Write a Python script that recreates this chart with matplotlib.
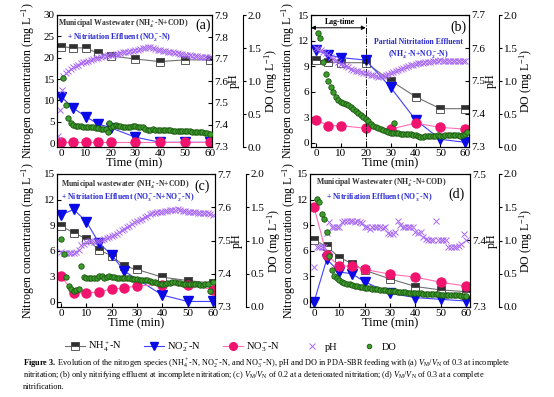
import numpy as np
import matplotlib
matplotlib.use('Agg')
import matplotlib.pyplot as plt

plt.rcParams['font.family'] = 'Liberation Serif'
plt.rcParams['mathtext.fontset'] = 'custom'
plt.rcParams['mathtext.rm'] = 'Liberation Serif'
plt.rcParams['mathtext.it'] = 'Liberation Serif:italic'
plt.rcParams['mathtext.bf'] = 'Liberation Serif:bold'
plt.rcParams['mathtext.default'] = 'regular'

# ---- panel (a) ----
a_t = [0, 5, 10, 15, 20, 30, 40, 50, 60]
a_nh4 = [22.6, 22.3, 22.3, 21.0, 20.4, 19.7, 19.1, 19.5, 19.5]
a_no2 = [10.9, 8.2, 6.2, 4.5, 3.6, 1.4, 0.2, 0.2, 0.2]
a_no3 = [0.2, 0.2, 0.2, 0.2, 0.2, 0.2, 0.2, 0.2, 0.2]
a_ph_t = [-1.1, -0.4, 0.5] + list(range(1, 61))
a_ph = [7.349, 7.467, 7.561,
        7.625, 7.635, 7.645, 7.655, 7.663, 7.670, 7.675, 7.680, 7.685, 7.688,
        7.692, 7.696, 7.700, 7.703, 7.706, 7.709, 7.712, 7.714, 7.716, 7.718,
        7.720, 7.722, 7.725, 7.727, 7.730, 7.732, 7.734, 7.736, 7.738, 7.740,
        7.743, 7.746, 7.749, 7.752, 7.755, 7.754, 7.750, 7.746, 7.743, 7.740,
        7.738, 7.736, 7.734, 7.732, 7.730, 7.728, 7.726, 7.724, 7.722, 7.720,
        7.718, 7.717, 7.715, 7.714, 7.712, 7.711, 7.710, 7.709, 7.708, 7.707]
a_do_t = list(range(1, 61)) + [19.2]
a_do = [1.04, 0.63, 0.44, 0.36, 0.33, 0.32, 0.32, 0.32, 0.31, 0.31,
        0.30, 0.30, 0.30, 0.29, 0.29, 0.28, 0.28, 0.27, 0.22, 0.31,
        0.32, 0.33, 0.32, 0.32, 0.31, 0.31, 0.31, 0.31, 0.32, 0.32,
        0.31, 0.30, 0.30, 0.28, 0.26, 0.26, 0.27, 0.26, 0.26, 0.26,
        0.26, 0.26, 0.26, 0.26, 0.25, 0.25, 0.25, 0.25, 0.24, 0.24,
        0.24, 0.24, 0.23, 0.23, 0.23, 0.22, 0.22, 0.21, 0.21, 0.20,
        0.36]

# ---- panel (b) ----
b_t = [0, 5, 10, 20, 30, 40, 50, 60]
b_nh4 = [9.7, 9.5, 9.4, 9.4, 7.3, 5.4, 4.0, 4.0]
b_no2 = [10.9, 10.3, 10.0, 9.7, 6.5, 2.7, 0.4, 0.05]
b_no3 = [2.7, 2.0, 2.0, 1.7, 1.6, 2.3, 1.8, 1.6]
b_ph_t = list(range(0, 61))
b_ph = [7.600, 7.597, 7.594, 7.589, 7.584, 7.578, 7.573, 7.568, 7.563, 7.558,
        7.553, 7.549, 7.545, 7.541, 7.537, 7.533, 7.531, 7.529, 7.527, 7.525,
        7.523, 7.521, 7.519, 7.517, 7.515, 7.513, 7.514, 7.516, 7.518, 7.520,
        7.523, 7.526, 7.529, 7.532, 7.535, 7.538, 7.541, 7.544, 7.547, 7.550,
        7.553, 7.554, 7.555, 7.556, 7.557, 7.558, 7.559, 7.560, 7.561, 7.562,
        7.563, 7.562, 7.562, 7.561, 7.561, 7.561, 7.561, 7.561, 7.561, 7.561, 7.561]
b_do_t = [0.8, 1.6] + list(range(3, 61)) + [31.5, 60.5]
b_do = [1.72, 1.65,
        1.29, 1.10, 1.00, 0.91, 0.84, 0.76, 0.71, 0.68,
        0.66, 0.65, 0.63, 0.61, 0.58, 0.55, 0.52, 0.49, 0.46, 0.43,
        0.39, 0.35, 0.32, 0.30, 0.29, 0.28, 0.26, 0.24, 0.22, 0.21,
        0.21, 0.21, 0.21, 0.20, 0.20, 0.20, 0.19, 0.19, 0.18, 0.18,
        0.17, 0.15, 0.15, 0.16, 0.16, 0.17, 0.17, 0.17, 0.18, 0.17,
        0.16, 0.18, 0.18, 0.18, 0.18, 0.18, 0.18, 0.17, 0.18, 0.19,
        0.36, 0.22]

# ---- panel (c) ----
c_t = [0, 5, 10, 15, 20, 25, 30, 40, 50, 60]
c_nh4 = [8.9, 8.1, 7.4, 6.1, 5.4, 4.2, 3.8, 2.9, 2.5, 2.2]
c_no2_t = [0, 5, 10, 15, 20, 25, 40, 50, 60]
c_no2 = [10.2, 10.85, 9.4, 6.9, 5.5, 3.6, 0.8, 0.05, 0.05]
c_no3 = [3.0, 1.1, 1.0, 1.2, 1.5, 1.6, 1.9, 2.0, 2.0, 1.45]
c_ph_t = list(range(0, 61))
c_ph = [7.465, 7.463, 7.462, 7.462, 7.463, 7.462, 7.465, 7.470, 7.485, 7.490,
        7.495, 7.497, 7.497, 7.496, 7.497, 7.498, 7.502, 7.506, 7.509, 7.512,
        7.515, 7.518, 7.521, 7.526, 7.531, 7.535, 7.540, 7.545, 7.550, 7.555,
        7.560, 7.563, 7.566, 7.570, 7.575, 7.580, 7.582, 7.584, 7.585, 7.586,
        7.586, 7.588, 7.590, 7.591, 7.592, 7.593, 7.594, 7.593, 7.590, 7.588,
        7.586, 7.587, 7.586, 7.585, 7.584, 7.583, 7.584, 7.583, 7.582, 7.580, 7.576]
c_do_t = list(range(0, 61))
c_do = [1.03, 0.80, 0.45, 0.32, 0.27, 0.24, 0.25, 0.27, 0.61, 0.45,
        0.44, 0.44, 0.43, 0.43, 0.44, 0.46, 0.46, 0.44, 0.45, 0.46,
        0.45, 0.45, 0.44, 0.44, 0.44, 0.43, 0.43, 0.43, 0.42, 0.42,
        0.42, 0.41, 0.41, 0.40, 0.40, 0.39, 0.38, 0.37, 0.36, 0.35,
        0.34, 0.35, 0.36, 0.36, 0.37, 0.37, 0.36, 0.36, 0.35, 0.35,
        0.34, 0.35, 0.35, 0.34, 0.34, 0.33, 0.33, 0.34, 0.34, 0.24, 0.38]

# ---- panel (d) ----
d_t = [0, 5, 10, 15, 20, 30, 40, 50, 60]
d_nh4 = [7.25, 6.5, 5.2, 4.5, 3.7, 2.7, 1.8, 1.4, 1.2]
d_no2 = [0.0, 5.0, 3.5, 3.3, 2.35, 1.0, 0.5, 0.3, 0.1]
d_no3 = [11.1, 5.5, 4.2, 4.2, 3.8, 3.25, 2.9, 2.3, 1.85]
d_ph_t = list(range(0, 61))
d_ph = [7.360, 7.390, 7.390, 7.390, 7.390, 7.412, 7.428, 7.420, 7.420, 7.420,
        7.420, 7.428, 7.430, 7.430, 7.430, 7.430, 7.428, 7.430, 7.428, 7.427,
        7.420, 7.420, 7.418, 7.420, 7.420, 7.420, 7.420, 7.419, 7.420, 7.412,
        7.410, 7.410, 7.413, 7.430, 7.423, 7.420, 7.420, 7.420, 7.420, 7.420,
        7.413, 7.412, 7.413, 7.405, 7.402, 7.400, 7.400, 7.400, 7.430, 7.400,
        7.400, 7.400, 7.400, 7.390, 7.390, 7.390, 7.390, 7.392, 7.395, 7.410, 7.400]
d_do_t = list(range(1, 61))
d_do = [1.63, 1.58, 1.40, 1.33, 1.13, 0.76, 0.55, 0.47, 0.43, 0.40,
        0.38, 0.36, 0.35, 0.34, 0.33, 0.32, 0.31, 0.30, 0.295, 0.29,
        0.285, 0.28, 0.275, 0.27, 0.265, 0.26, 0.255, 0.25, 0.245, 0.24,
        0.238, 0.235, 0.232, 0.23, 0.225, 0.22, 0.218, 0.215, 0.212, 0.21,
        0.208, 0.205, 0.202, 0.20, 0.198, 0.195, 0.192, 0.19, 0.188, 0.185,
        0.183, 0.18, 0.18, 0.178, 0.176, 0.175, 0.173, 0.172, 0.171, 0.17]

NH4_KW = dict(color='#707070', lw=0.8, marker='s', ms=6, fillstyle='top',
              mfc='#303030', mfcalt='white', mec='#404040', mew=0.6)
NO2_KW = dict(color='#4040ff', lw=0.8, marker='v', ms=7, mfc='#0a0ae6', mec='#0a0ae6')
NO3_KW = dict(color='#ff6fb5', lw=0.8, marker='o', ms=6.5, mfc='#f0146e', mec='#f0146e')
PH_KW = dict(ls='none', marker='x', ms=4.5, mew=0.7, color='#a868f5')
DO_KW = dict(ls='none', marker='o', ms=3.9, mfc='#3c9c2c', mec='#1b5410', mew=0.6)
BLUE = '#2a2ad0'
TICK = 8
LAB = 8.6

W, H = 554, 397
fig = plt.figure(figsize=(W / 100, H / 100), dpi=100)


def box(l, t, r, b):
    return [l / W, 1 - b / H, (r - l) / W, (b - t) / H]


def panel(pos, xlim, t, nh4, no2_t, no2, no3, ph_t, ph, do_t, do,
          ylim, yticks, phlim, phticks, off, lx, dx):
    ax = fig.add_axes(pos)
    ax.plot(t, nh4, **NH4_KW, label='NH$_4^+$-N')
    ax.plot(no2_t, no2, **NO2_KW, label='NO$_2^-$-N')
    ax.plot(t, no3, **NO3_KW, label='NO$_3^-$-N')
    ax.set_xlim(xlim)
    ax.set_ylim(ylim)
    ax.set_xticks([0, 10, 20, 30, 40, 50, 60])
    ax.set_yticks(yticks)
    ax.tick_params(direction='in', length=3, labelsize=TICK, pad=1.5)
    ax.set_xlabel('Time (min)', fontsize=LAB + 0.4, labelpad=-0.5)
    ax.set_ylabel('Nitrogen concentration (mg L$^{-1}$)', fontsize=LAB)
    ax.yaxis.set_label_coords(lx, 0.5)

    ax2 = ax.twinx()
    ax2.plot(ph_t, ph, **PH_KW, label='pH')
    ax2.set_ylim(phlim)
    ax2.set_yticks(phticks)
    ax2.set_yticklabels(['%.1f' % v for v in phticks])
    ax2.tick_params(direction='in', length=3, labelsize=TICK, pad=1.5)
    ax2.set_ylabel('pH', fontsize=LAB, labelpad=0)

    ax3 = ax.twinx()
    for s in ['left', 'top', 'bottom']:
        ax3.spines[s].set_visible(False)
    # offset given in pixels, spine wants points
    ax3.spines['right'].set_position(('outward', off * 0.72))
    ax3.plot(do_t, do, **DO_KW, label='DO')
    ax3.set_ylim(0, 2.0)
    ax3.set_yticks([0, 0.5, 1.0, 1.5, 2.0])
    ax3.set_yticklabels(['0.0', '0.5', '1.0', '1.5', '2.0'])
    ax3.tick_params(direction='out', length=2.5, labelsize=TICK, pad=1)
    ax3.set_ylabel('DO (mg L$^{-1}$)', fontsize=LAB)
    ax3.yaxis.set_label_coords(dx, 0.5)
    return ax, ax2, ax3


axa = panel(box(57, 15, 212, 147), (-1.6, 60.9), a_t, a_nh4, a_t, a_no2, a_no3,
            a_ph_t, a_ph, a_do_t, a_do, (-0.9, 30), [0, 5, 10, 15, 20, 25, 30],
            (7.3, 7.9), [7.3, 7.4, 7.5, 7.6, 7.7, 7.8, 7.9], 31, -0.129, 1.325)
axb = panel(box(311, 15, 469, 147), (-2.0, 61.5), b_t, b_nh4, b_t, b_no2, b_no3,
            b_ph_t, b_ph, b_do_t, b_do, (-0.5, 15), [0, 3, 6, 9, 12, 15],
            (7.3, 7.7), [7.3, 7.4, 7.5, 7.6, 7.7], 30, -0.088, 1.304)
axc = panel(box(57, 174, 215, 307), (-1.6, 60.8), c_t, c_nh4, c_no2_t, c_no2, c_no3,
            c_ph_t, c_ph, c_do_t, c_do, (-0.6, 15), [0, 3, 6, 9, 12, 15],
            (7.3, 7.7), [7.3, 7.4, 7.5, 7.6, 7.7], 31, -0.127, 1.318)
axd = panel(box(310, 174, 470, 307), (-1.6, 61.5), d_t, d_nh4, d_t, d_no2, d_no3,
            d_ph_t, d_ph, d_do_t, d_do, (-0.6, 15), [0, 3, 6, 9, 12, 15],
            (7.3, 7.5), [7.3, 7.4, 7.5], 29, -0.078, 1.294)

# annotations
ax = axa[0]
ax.text(-1.0, 27.9, 'Municipal Wastewater (NH$_4^+$-N+COD)', fontsize=5.6,
        fontweight='bold', color='#333333', va='center')
ax.text(60.5, 27.6, '(a)', fontsize=10, ha='right', va='center')
ax.text(2.3, 24.9, '+ Nitritation Effluent (NO$_2^-$-N)', fontsize=5.6,
        fontweight='bold', color=BLUE, va='center')

ax = axb[0]
ax.axvline(20, color='black', lw=0.7, ls='-.')
ax.annotate('', xy=(-2.0, 13.5), xytext=(20, 13.5),
            arrowprops=dict(arrowstyle='<|-|>', color='black', lw=0.7,
                            mutation_scale=6, shrinkA=0, shrinkB=0))
ax.text(9.5, 14.2, 'Lag-time', fontsize=5.6, fontweight='bold', ha='center', va='center')
ax.text(60.5, 13.6, '(b)', fontsize=10, ha='right', va='center')
ax.text(41, 11.8, 'Partial Nitritation Effluent', fontsize=5.6, fontweight='bold',
        color=BLUE, ha='center', va='center')
ax.text(41, 10.4, '(NH$_4^+$-N+NO$_2^-$-N)', fontsize=5.6, fontweight='bold',
        color=BLUE, ha='center', va='center')

ax = axc[0]
ax.text(0, 13.7, 'Municipal wastewater (NH$_4^+$-N+COD)', fontsize=5.6,
        fontweight='bold', color='#333333', va='center')
ax.text(55.5, 13.6, '(c)', fontsize=10, ha='center', va='center')
ax.text(0, 12.3, '+ Nitritation Effluent (NO$_3^-$-N+NO$_2^-$-N)', fontsize=5.6,
        fontweight='bold', color=BLUE, va='center')

ax = axd[0]
ax.text(0.8, 14.0, 'Municipal Wastewater (NH$_4^+$-N+COD)', fontsize=5.6,
        fontweight='bold', color='#333333', va='center')
ax.text(56, 12.6, '(d)', fontsize=10, ha='center', va='center')
ax.text(4.7, 12.3, '+ Nitrifiation Effluent (NO$_3^-$-N)', fontsize=5.6,
        fontweight='bold', color=BLUE, va='center')

# legend row
h1, l1 = axa[0].get_legend_handles_labels()
h2, l2 = axa[1].get_legend_handles_labels()
h3, l3 = axa[2].get_legend_handles_labels()
fig.legend(h1 + h2 + h3, l1 + l2 + l3, loc='center', ncol=5,
           bbox_to_anchor=(231 / W, 1 - 347 / H), frameon=False, fontsize=7.5,
           handlelength=1.9, columnspacing=2.1, handletextpad=0.3, markerscale=0.85)

# caption
cap = [
    r'$\mathbf{Figure\ 3.}$ Evolution of the nitrogen species (NH$_4^+$-N, NO$_2^-$-N, and NO$_3^-$-N), pH and DO in PDA-SBR feeding with (a) $\mathit{V}_\mathrm{M}/\mathit{V}_\mathrm{N}$ of 0.3 at incomplete',
    r'nitritation; (b) only nitrifying effluent at incomplete nitritation; (c) $\mathit{V}_\mathrm{M}/\mathit{V}_\mathrm{N}$ of 0.2 at a deteriorated nitritation; (d) $\mathit{V}_\mathrm{M}/\mathit{V}_\mathrm{N}$ of 0.3 at a complete',
    'nitrification.',
]
for i, line in enumerate(cap):
    fig.text(23 / W, 1 - (363 + 12 * i) / H, line, fontsize=5.95, va='center', ha='left')

fig.savefig('out.png', dpi=100)
